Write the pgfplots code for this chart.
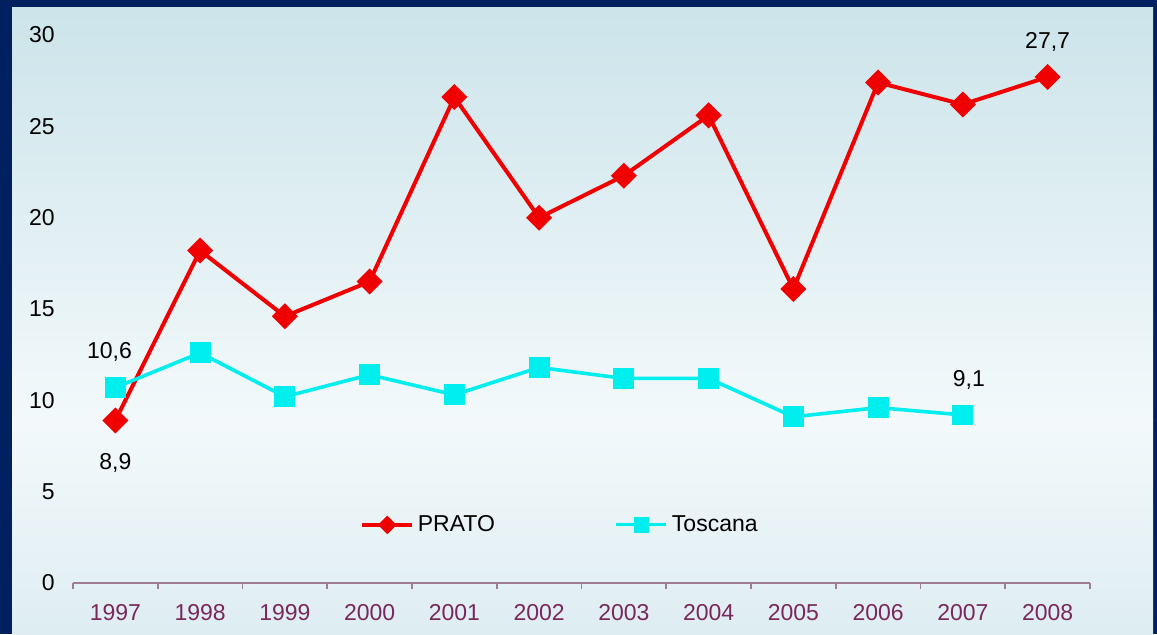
\documentclass[border=0pt]{standalone}
\usepackage{pgfplots}
\pgfplotsset{compat=1.18}
\usepackage{fontspec}
\setmainfont{Liberation Sans}
\usetikzlibrary{plotmarks}
\definecolor{navy}{RGB}{0,32,96}
\definecolor{bgtop}{RGB}{204,228,234}
\definecolor{bgmid}{RGB}{243,249,251}
\definecolor{bgbot}{RGB}{222,237,242}
\definecolor{prato}{RGB}{240,0,0}
\definecolor{tosc}{RGB}{0,238,238}
\definecolor{axcol}{RGB}{160,125,145}
\definecolor{xlab}{RGB}{120,40,90}
\newcommand{\lf}{\fontsize{11.5}{13}\selectfont}
\begin{document}
\begin{tikzpicture}
\fill[navy] (0,0) rectangle (578.5pt,317pt);
\shade[top color=bgtop,bottom color=bgmid] (6pt,106.9pt) rectangle (576.5pt,313.5pt);
\shade[top color=bgmid,bottom color=bgbot] (6pt,0pt) rectangle (576.5pt,107pt);
\begin{axis}[
  at={(36.5pt,25.5pt)}, anchor=south west,
  scale only axis, width=508.5pt, height=274pt,
  xmin=-0.5, xmax=11.5, ymin=0, ymax=30,
  axis x line*=bottom, axis y line*=left,
  y axis line style={draw=none},
  x axis line style={axcol, line width=0.8pt},
  xtick={0,...,11},
  xticklabels={1997,1998,1999,2000,2001,2002,2003,2004,2005,2006,2007,2008},
  minor xtick={-0.5,0.5,...,11.5},
  ytick={0,5,10,15,20,25,30},
  /pgf/number format/assume math mode=true,
  major tick length=0pt, minor tick length=3pt, tick align=outside,
  major tick style={draw=none},
  minor x tick style={axcol, line width=0.8pt},
  xticklabel style={text=xlab, anchor=north, inner sep=0pt, yshift=-10.5pt, font=\lf},
  yticklabel style={text=black, anchor=east, inner sep=0pt, xshift=-9pt, font=\lf},
  clip=false,
  legend columns=2,
  legend style={at={(0.48,0.106)}, anchor=center, draw=none, fill=none, font=\lf,
    /tikz/every even column/.append style={column sep=58pt}},
  legend image code/.code={\draw[mark repeat=2,mark phase=2,#1] plot coordinates {(0pt,0pt) (12.5pt,0pt) (25pt,0pt)};},
]
\addplot[prato, line width=2pt, mark=square*, mark size=3.6pt, mark options={rotate=45, solid},
  legend image post style={line width=1.6pt, mark size=2.5pt}]
coordinates {(0,8.9) (1,18.2) (2,14.6) (3,16.5) (4,26.6) (5,20.0) (6,22.3) (7,25.6) (8,16.1) (9,27.4) (10,26.2) (11,27.7)};
\addlegendentry{PRATO}
\addplot[tosc, line width=1.8pt, mark=square*, mark size=4.3pt, mark options={solid},
  legend image post style={line width=1.5pt, mark size=3.2pt}]
coordinates {(0,10.7) (1,12.6) (2,10.2) (3,11.4) (4,10.3) (5,11.8) (6,11.2) (7,11.2) (8,9.1) (9,9.6) (10,9.2)};
\addlegendentry{Toscana}
\node[font=\lf] at (axis cs:11,29.6) {27,7};
\node[font=\lf] at (axis cs:0,6.55) {8,9};
\node[font=\lf] at (axis cs:-0.07,12.65) {10,6};
\node[font=\lf] at (axis cs:10.07,11.1) {9,1};
\end{axis}
\pgfresetboundingbox
\useasboundingbox (0,0) rectangle (578.5pt,317pt);
\end{tikzpicture}
\end{document}
